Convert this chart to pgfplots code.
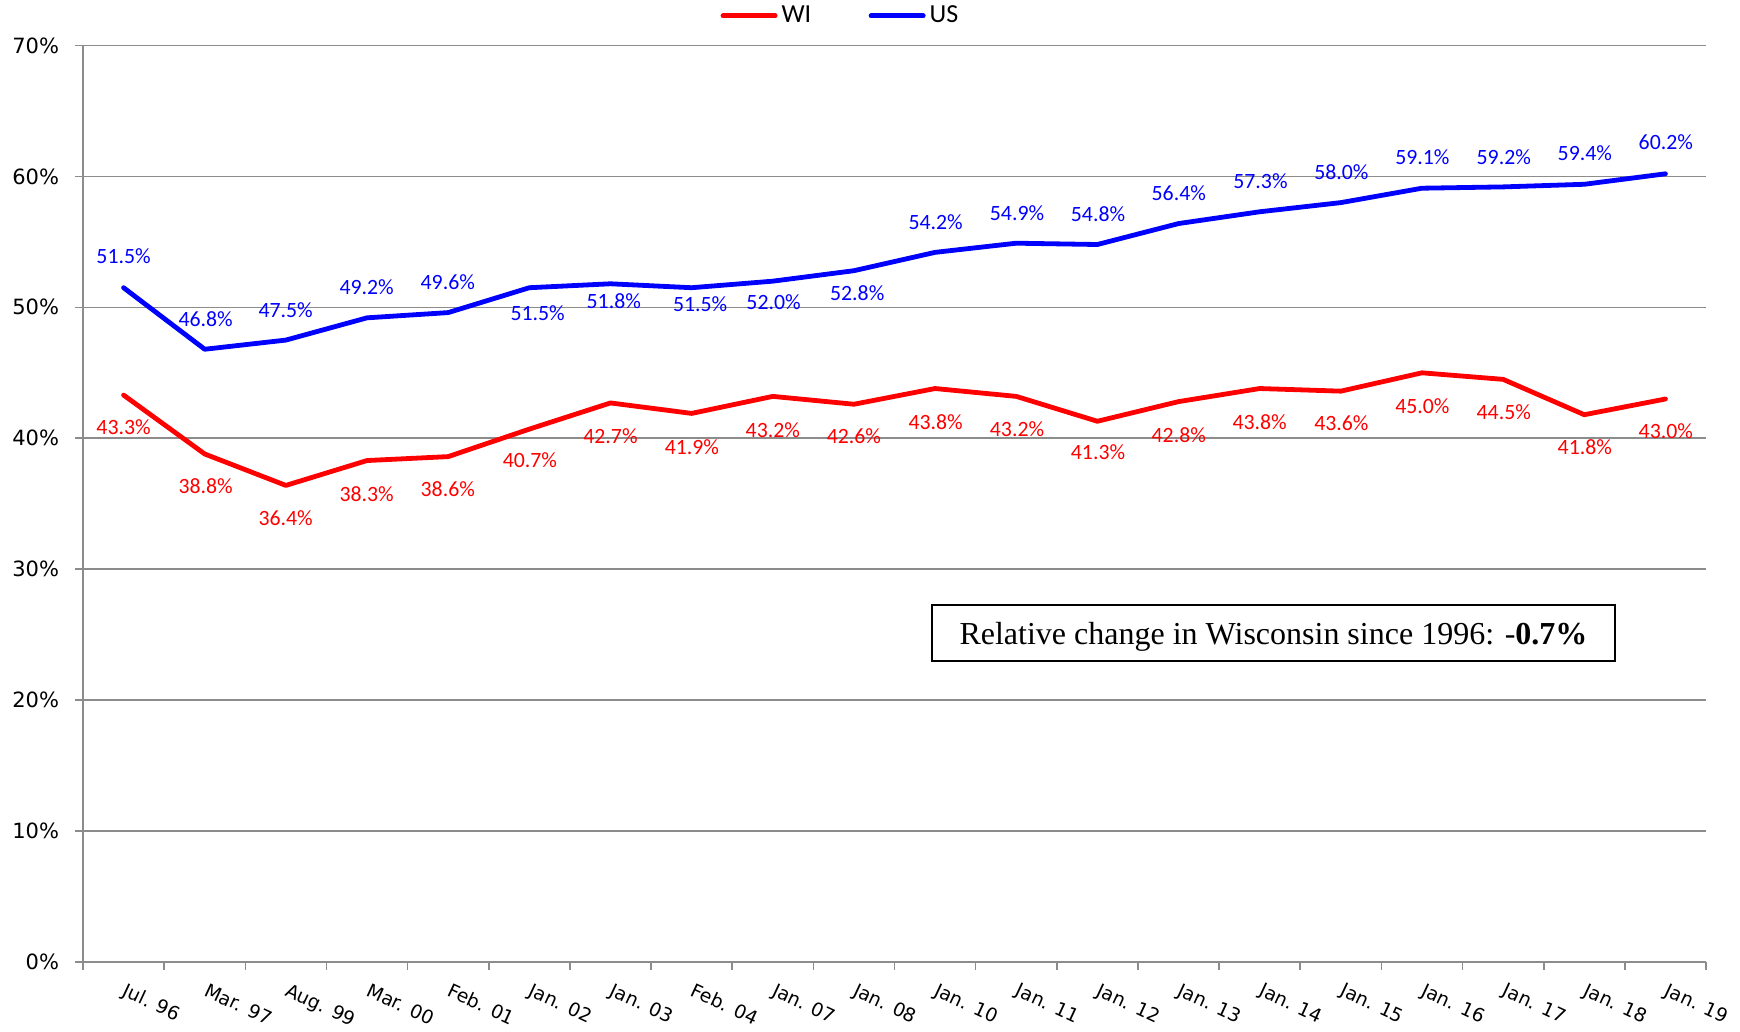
\documentclass[border=0pt]{standalone}
\usepackage{fontspec}
\setmainfont{Carlito}
\newfontfamily\dejavu{DejaVu Sans}
\newfontfamily\tnr{Liberation Serif}
\usepackage{pgfplots}
\usepackage{pgfplotstable}
\pgfplotsset{compat=1.18}
\definecolor{gridgray}{HTML}{8C8C8C}

\pgfplotstableread{
x v xl yl
0 43.3 0.000 40.85
1 38.8 1.012 36.33
2 36.4 1.997 33.90
3 38.3 2.996 35.76
4 38.6 3.995 36.10
5 40.7 5.007 38.31
6 42.7 6.000 40.18
7 41.9 7.003 39.32
8 43.2 8.001 40.64
9 42.6 9.000 40.13
10 43.8 10.007 41.27
11 43.2 11.010 40.69
12 41.3 12.008 38.91
13 42.8 13.003 40.25
14 43.8 14.000 41.27
15 43.6 15.007 41.14
16 45.0 16.005 42.49
17 44.5 17.008 41.96
18 41.8 18.007 39.31
19 43.0 19.005 40.51
}\wi

\pgfplotstableread{
x v xl yl
0 51.5 0.000 53.90
1 46.8 1.012 49.10
2 47.5 1.997 49.80
3 49.2 2.996 51.53
4 49.6 3.995 51.95
5 51.5 5.103 49.58
6 51.8 6.041 50.49
7 51.5 7.105 50.24
8 52.0 8.010 50.43
9 52.8 9.041 51.08
10 54.2 10.007 56.54
11 54.9 11.010 57.19
12 54.8 12.008 57.13
13 56.4 13.003 58.71
14 57.3 14.010 59.66
15 58.0 15.007 60.36
16 59.1 16.005 61.46
17 59.2 17.008 61.51
18 59.4 18.007 61.76
19 60.2 19.005 62.58
}\us

\begin{document}
\begin{tikzpicture}
\path[use as bounding box] (0,0) rectangle (870pt,516pt);
\begin{axis}[
  at={(41.5pt,35pt)}, anchor=south west,
  scale only axis, width=811.5pt, height=458.25pt,
  xmin=-0.5, xmax=19.5, ymin=0, ymax=70,
  axis x line=bottom, axis y line=left,
  axis line style={-, draw=gridgray, line width=0.8pt},
  /pgf/number format/assume math mode=true,
  ytick={0,10,...,70},
  yticklabel={\pgfmathprintnumber{\tick}\%},
  yticklabel style={font=\dejavu\fontsize{10.5}{12}\selectfont, anchor=east, inner sep=0pt, xshift=-7.8pt},
  ymajorgrids, grid style={draw=gridgray, line width=0.8pt},
  xtick={-0.5,0.5,...,19.5}, xticklabels={},
  tick align=outside, major tick length=4pt,
  tick style={draw=gridgray, line width=0.8pt},
  extra x ticks={0,1,...,19},
  extra x tick labels={Jul. 96, Mar. 97, Aug. 99, Mar. 00, Feb. 01, Jan. 02, Jan. 03, Feb. 04, Jan. 07, Jan. 08, Jan. 10, Jan. 11, Jan. 12, Jan. 13, Jan. 14, Jan. 15, Jan. 16, Jan. 17, Jan. 18, Jan. 19},
  extra x tick style={tick style={draw=none}, grid=none,
    tick label style={font=\dejavu\fontsize{9.4}{11}\selectfont, xshift=2pt, yshift=-6pt, rotate=-25, anchor=north west, inner sep=0pt}},
  clip=false,
  legend style={draw=none, fill=none, at={(0.4673,1.0322)}, anchor=center,
    font=\fontsize{13}{15}\selectfont,
    /tikz/every even column/.append style={column sep=26.7pt}},
  legend columns=2,
  legend image code/.code={\draw[line width=2.5pt, line cap=round] (0pt,0pt) -- (26pt,0pt);},
]
\addplot[color=red, line width=2.4pt, line cap=round, line join=round, mark=none] table[x=x, y=v]{\wi};
\addlegendentry{WI}
\addplot[color=blue, line width=2.4pt, line cap=round, line join=round, mark=none] table[x=x, y=v]{\us};
\addlegendentry{US}

\addplot[draw=none, mark=none, forget plot, point meta=explicit,
  nodes near coords={\pgfmathprintnumber[fixed,fixed zerofill,precision=1]{\pgfplotspointmeta}\%},
  every node near coord/.append style={anchor=center, inner sep=0pt, text=red, font=\fontsize{10.9}{12}\selectfont}]
  table[x=xl, y=yl, meta=v]{\wi};
\addplot[draw=none, mark=none, forget plot, point meta=explicit,
  nodes near coords={\pgfmathprintnumber[fixed,fixed zerofill,precision=1]{\pgfplotspointmeta}\%},
  every node near coord/.append style={anchor=center, inner sep=0pt, text=blue, font=\fontsize{10.9}{12}\selectfont}]
  table[x=xl, y=yl, meta=v]{\us};

\node[draw=black, line width=0.9pt, minimum width=341.5pt, minimum height=28pt, inner sep=0pt, fill=white,
  text depth=0pt, font=\tnr\fontsize{16}{19}\selectfont] at (axis cs:14.17,25.13)
  {Relative change in Wisconsin since 1996: -\textbf{0.7\%}};
\end{axis}
\end{tikzpicture}
\end{document}
